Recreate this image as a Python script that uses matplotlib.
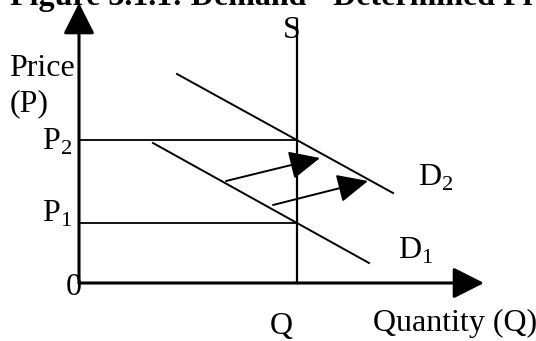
import matplotlib
matplotlib.use("Agg")
import matplotlib.pyplot as plt
from matplotlib.patches import FancyArrowPatch, ArrowStyle

plt.rcParams['font.family'] = ['Liberation Serif', 'DejaVu Serif']

# Diagram values (quantity, price) - origin at the 0 corner
q_eq = 218
p1 = 60
p2 = 143
d1_q = [74, 290]
d1_p = [140, 20]
d2_q = [98, 314]
d2_p = [209, 90]
s_top = 263
y_axis_top = 280
x_axis_end = 405
# demand shift arrows: (tail q, tail p, tip q, tip p)
shift_arrows = [(147, 102, 241, 125), (194, 78, 289, 102)]

title = "Figure 3.1.1: Demand - Determined Price"

fig = plt.figure(figsize=(5.36, 3.41), dpi=100)
ax = fig.add_axes([0, 0, 1, 1])
ax.set_xlim(-79, 457)
ax.set_ylim(-58, 283)
ax.axis('off')

fs = 23
k = 'black'

# axes with arrows
axis_head = ArrowStyle('-|>', head_length=19, head_width=9.6)
ax.add_patch(FancyArrowPatch((0, 0), (0, y_axis_top), arrowstyle=axis_head,
                             mutation_scale=1, lw=2.2, color=k,
                             shrinkA=0, shrinkB=0))
ax.add_patch(FancyArrowPatch((0, 0), (x_axis_end, 0), arrowstyle=axis_head,
                             mutation_scale=1, lw=2.2, color=k,
                             shrinkA=0, shrinkB=0))

# supply, price levels, demand curves
ax.plot([q_eq, q_eq], [0, s_top], color=k, lw=1.6)
ax.plot([0, q_eq], [p2, p2], color=k, lw=1.3)
ax.plot([0, q_eq], [p1, p1], color=k, lw=1.3)
ax.plot(d1_q, d1_p, color=k, lw=1.4)
ax.plot(d2_q, d2_p, color=k, lw=1.4)

shift_head = ArrowStyle('-|>', head_length=19, head_width=8.8)
for q0, pp0, q1, pp1 in shift_arrows:
    ax.add_patch(FancyArrowPatch((q0, pp0), (q1, pp1), arrowstyle=shift_head,
                                 mutation_scale=1, lw=1.4, color=k,
                                 shrinkA=0, shrinkB=0))

# labels
lab = dict(fontsize=fs, color=k, ha='left', va='baseline')
ax.text(-69.7, 207, 'Price', **lab)
ax.text(-69.7, 172, '(P)', **lab)
ax.text(-37.5, 133.7, r'P$_\mathregular{2}$', **lab)
ax.text(-37.5, 61.3, r'P$_\mathregular{1}$', **lab)
ax.text(-13, -12, '0', **lab)
ax.text(191, -51, 'Q', **lab)
ax.text(293.7, -47.5, 'Quantity (Q)', **lab)
ax.text(203.7, 244.7, 'S', **lab)
ax.text(339.3, 97, r'D$_\mathregular{2}$', **lab)
ax.text(318.7, 24, r'D$_\mathregular{1}$', **lab)
ax.text(-69, 278, title, fontsize=fs, fontweight='bold', color=k,
        ha='left', va='baseline')

fig.savefig('out.png', dpi=100)
